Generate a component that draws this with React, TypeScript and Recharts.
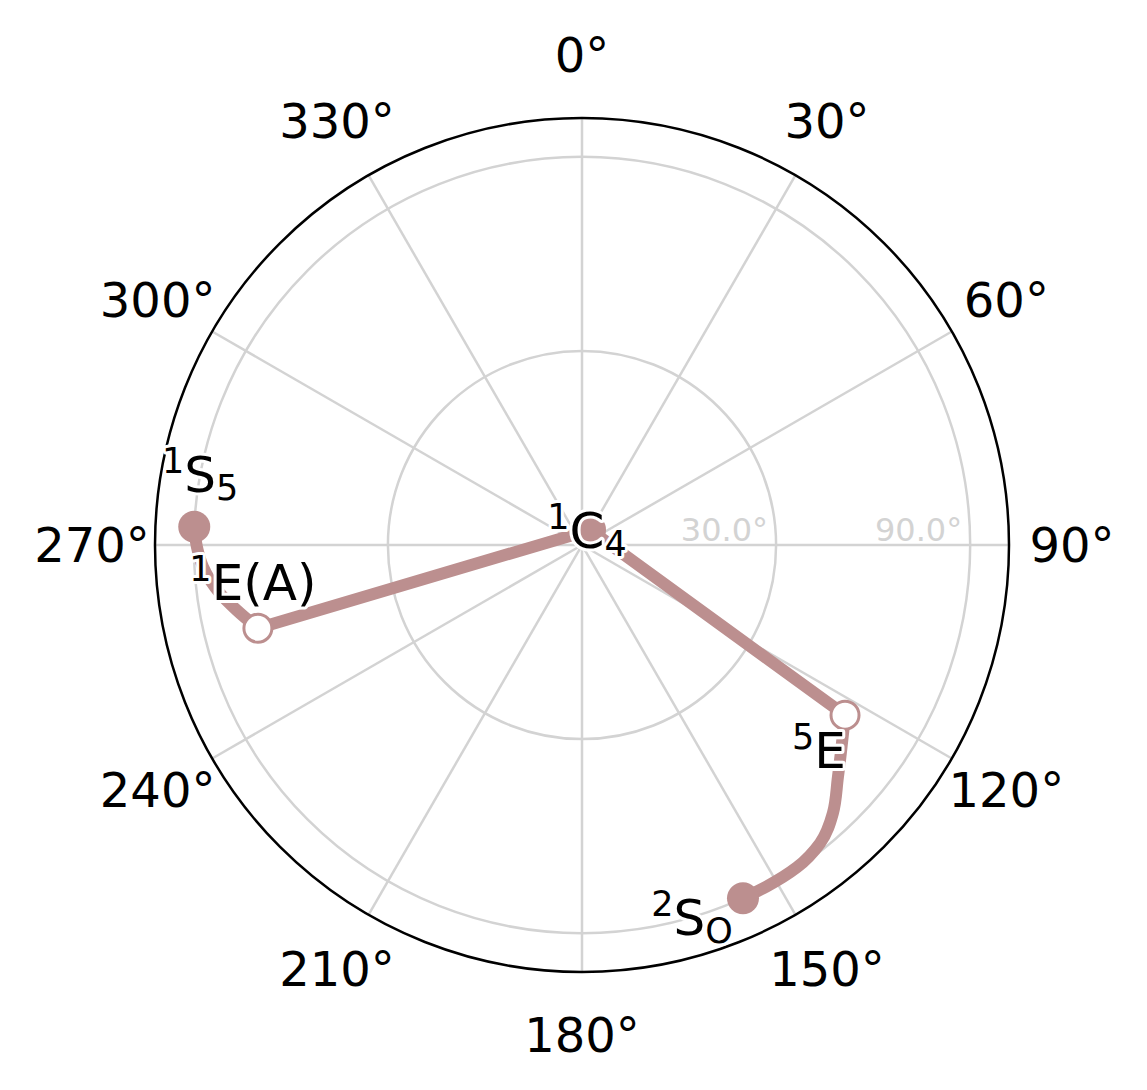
import {
  RadarChart, Radar, PolarGrid, PolarAngleAxis, PolarRadiusAxis,
  ScatterChart, Scatter, XAxis, YAxis,
} from "recharts";

// angular ticks (deg, clockwise from top)
const angleTicks = [0, 30, 60, 90, 120, 150, 180, 210, 240, 270, 300, 330];
// radial ticks are sin(theta); labels show theta
const radiusTicks = [0.5, 1.0];
const radiusTickLabels = ["30.0°", "90.0°"];

// pseudorotation path: phi (deg) and sin(theta)
const phi = [272.7, 269.7, 266.7, 262.4, 259.3, 255.6, 28, 122.9, 132.2, 136.9, 141.4, 146.3, 151.6, 155.5];
const sinTheta = [1.0, 0.992, 0.978, 0.941, 0.905, 0.862, 0.044, 0.807, 0.89, 0.946, 0.983, 0.998, 1.0, 1.0];
const pointKind = ["minimum", "", "", "", "", "transition", "minimum", "transition", "", "", "", "", "", "minimum"];
const labelSup = ["1", "", "", "", "", "1", "1", "5", "", "", "", "", "", "2"];
const labelBase = ["S", "", "", "", "", "E(A)", "C", "E", "", "", "", "", "", "S"];
const labelSub = ["5", "", "", "", "", "", "4", "", "", "", "", "", "", "O"];

// path pieces: [first index, last index], curved or straight
const segments: [number, number, string][] = [
  [0, 5, "monotoneY"],
  [5, 7, "linear"],
  [7, 13, "monotoneY"],
];

const W = 1131, H = 1074;
const CX = 574, CY = 537, R = 427, RMAX = 1.1;
const TICK_R = 490;
const COLOR = "#bc8f8f";
const GRID = "#d3d3d3";
const FONT = "DejaVu Sans";

// label offset from its point (px), by index
const labelOffset: Record<number, [number, number]> = {
  0: [6, -35],
  5: [-5, -28],
  6: [-3, 18],
  7: [-26, 53],
  13: [-51, 37],
};

const gridData = angleTicks.map(a => ({ label: `${a}°`, v: 0 }));
const pathData = phi.map((p, i) => ({
  x: sinTheta[i] * Math.sin((p * Math.PI) / 180),
  y: sinTheta[i] * Math.cos((p * Math.PI) / 180),
  i,
}));

const AngleTick = (props: any) => {
  const { x, y, payload } = props;
  const dx = x - CX, dy = y - CY;
  const d = Math.hypot(dx, dy) || 1;
  return (
    <text x={CX + (dx / d) * TICK_R} y={CY + (dy / d) * TICK_R} textAnchor="middle"
      dominantBaseline="central" fontSize={48} fontFamily={FONT} fill="#000">
      {payload.value}
    </text>
  );
};

const RadiusTick = (props: any) => {
  const { x, y, payload } = props;
  const k = radiusTicks.indexOf(payload.value);
  return (
    <text x={x - 8} y={y - 4} textAnchor="end" fontSize={32} fontFamily={FONT} fill={GRID}>
      {radiusTickLabels[k] ?? ""}
    </text>
  );
};

const Marker = (props: any) => {
  const { cx, cy, payload } = props;
  const kind = pointKind[payload.i];
  if (kind === "minimum") return <circle cx={cx} cy={cy} r={16} fill={COLOR} />;
  if (kind === "transition") return <circle cx={cx} cy={cy} r={14} fill="#fff" stroke={COLOR} strokeWidth={3} />;
  return <g />;
};

const PointLabel = (props: any) => {
  const { cx, cy, payload } = props;
  const i = payload.i;
  if (!labelBase[i]) return <g />;
  const [ox, oy] = labelOffset[i] ?? [0, 0];
  return (
    <text x={cx + ox} y={cy + oy} textAnchor="middle" fontFamily={FONT} fill="#000"
      stroke="#fff" strokeWidth={6} paintOrder="stroke" strokeLinejoin="round">
      <tspan fontSize={35} dy={-19}>{labelSup[i]}</tspan>
      <tspan fontSize={50} dy={19}>{labelBase[i]}</tspan>
      {labelSub[i] ? <tspan fontSize={35} dy={8}>{labelSub[i]}</tspan> : null}
    </text>
  );
};

export default function App() {
  return (
    <div style={{ position: "relative", width: W, height: H, fontFamily: FONT }}>
      <div style={{ position: "absolute", left: 0, top: 0 }}>
        <RadarChart width={W} height={H} cx={CX} cy={CY} outerRadius={R} data={gridData}
          margin={{ top: 0, right: 0, bottom: 0, left: 0 }}>
          <PolarGrid gridType="circle" stroke={GRID} strokeWidth={2.5} />
          <PolarAngleAxis dataKey="label" tick={<AngleTick />} tickLine={false}
            axisLineType="circle" axisLine={{ stroke: "#000", strokeWidth: 2.5 }} />
          <PolarRadiusAxis angle={0} type="number" domain={[0, RMAX]} ticks={radiusTicks}
            tick={<RadiusTick />} axisLine={false} tickLine={false} />
          <Radar dataKey="v" stroke="none" fill="none" isAnimationActive={false} dot={false} />
        </RadarChart>
      </div>
      <div style={{ position: "absolute", left: 0, top: 0 }}>
        <ScatterChart width={W} height={H}
          margin={{ top: CY - R, right: W - CX - R, bottom: H - CY - R, left: CX - R }}>
          <XAxis type="number" dataKey="x" domain={[-RMAX, RMAX]} hide allowDataOverflow />
          <YAxis type="number" dataKey="y" domain={[-RMAX, RMAX]} hide allowDataOverflow />
          {segments.map(([a, b, curve]) => (
            <Scatter key={a} data={pathData.slice(a, b + 1)} shape={() => <g />}
              line={{ stroke: COLOR, strokeWidth: 12, strokeLinejoin: "round" }}
              lineJointType={curve as any} isAnimationActive={false} />
          ))}
          <Scatter data={pathData} shape={<Marker />} isAnimationActive={false} />
          <Scatter data={pathData} shape={<PointLabel />} isAnimationActive={false} />
        </ScatterChart>
      </div>
    </div>
  );
}
